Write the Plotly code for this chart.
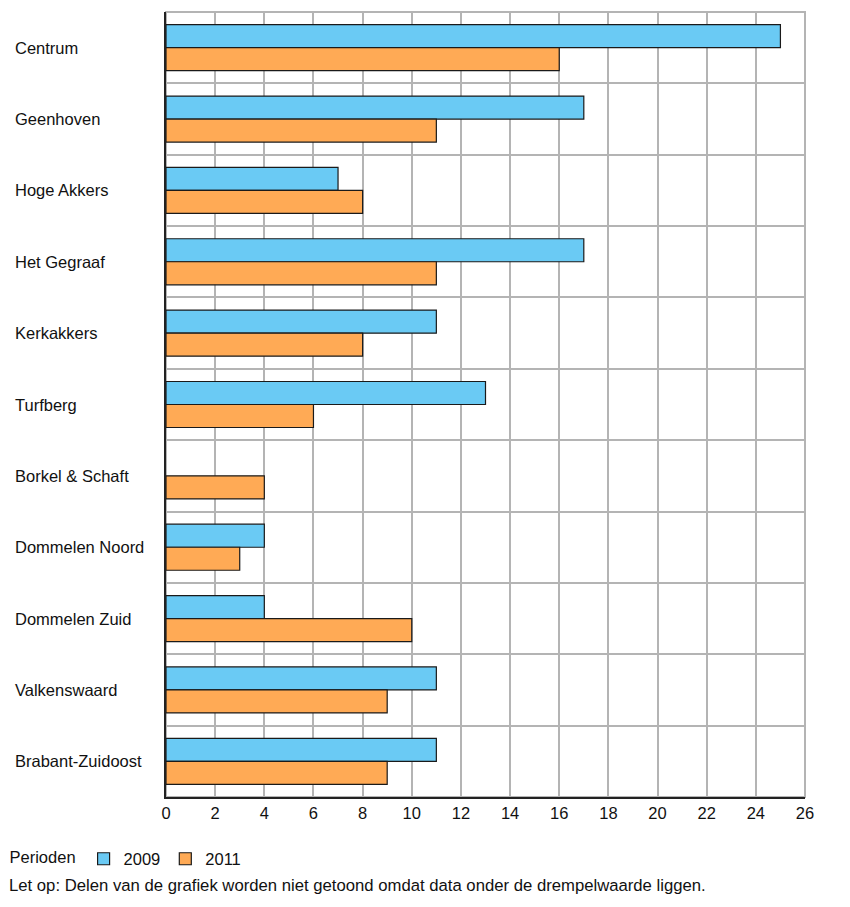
import plotly.graph_objects as go

categories = ["Centrum", "Geenhoven", "Hoge Akkers", "Het Gegraaf", "Kerkakkers", "Turfberg",
              "Borkel & Schaft", "Dommelen Noord", "Dommelen Zuid", "Valkenswaard", "Brabant-Zuidoost"]
values_2009 = [25, 17, 7, 17, 11, 13, None, 4, 4, 11, 11]
values_2011 = [16, 11, 8, 11, 8, 6, 4, 3, 10, 9, 9]
x_ticks = list(range(0, 27, 2))

fig = go.Figure()
fig.add_trace(go.Bar(y=categories, x=values_2009, name="2009", orientation="h",
                     marker=dict(color="#6ACAF4", line=dict(color="#1a1a1a", width=1.2))))
fig.add_trace(go.Bar(y=categories, x=values_2011, name="2011", orientation="h",
                     marker=dict(color="#FFAA55", line=dict(color="#1a1a1a", width=1.2))))

font = "Liberation Sans, Arial, sans-serif"
for c in categories:
    fig.add_annotation(x=-0.2394, xref="paper", y=c, yref="y", text=c, showarrow=False,
                       xanchor="left", yanchor="middle", font=dict(family=font, size=16.5, color="#111"))

fig.add_annotation(x=-0.2488, xref="paper", y=-0.1125, yref="paper", yanchor="middle", xanchor="left",
                   text="Let op: Delen van de grafiek worden niet getoond omdat data onder de drempelwaarde liggen.",
                   showarrow=False, font=dict(family=font, size=16.7, color="#111"))

fig.add_shape(type="rect", xref="paper", yref="paper", x0=0, x1=1, y0=0, y1=1,
              line=dict(color="#B4B4B4", width=2), layer="below")

fig.update_layout(
    width=842, height=899,
    margin=dict(l=158, r=45, t=4, b=110, autoexpand=False),
    plot_bgcolor="white", paper_bgcolor="white",
    barmode="group", bargap=0.355, bargroupgap=0,
    font=dict(family=font, size=16.5, color="#111"),
    showlegend=True,
    legend=dict(orientation="h", x=-0.248, xanchor="left", y=-0.079, yanchor="middle",
                title=dict(text="Perioden", side="left", font=dict(size=16.5)), font=dict(size=16.5),
                itemwidth=30, traceorder="normal"),
    xaxis=dict(range=[0, 26], tickvals=x_ticks, showgrid=True, gridcolor="#B4B4B4", gridwidth=2,
               showline=True, linecolor="#222", linewidth=1.5, ticks="", zeroline=False,
               tickfont=dict(size=16.5)),
    yaxis=dict(autorange="reversed", type="category", tickson="boundaries", showgrid=True,
               gridcolor="#B4B4B4", gridwidth=2, showticklabels=False, showline=True,
               linecolor="#222", linewidth=1.5, ticks=""),
)
fig.write_html("out.html")
